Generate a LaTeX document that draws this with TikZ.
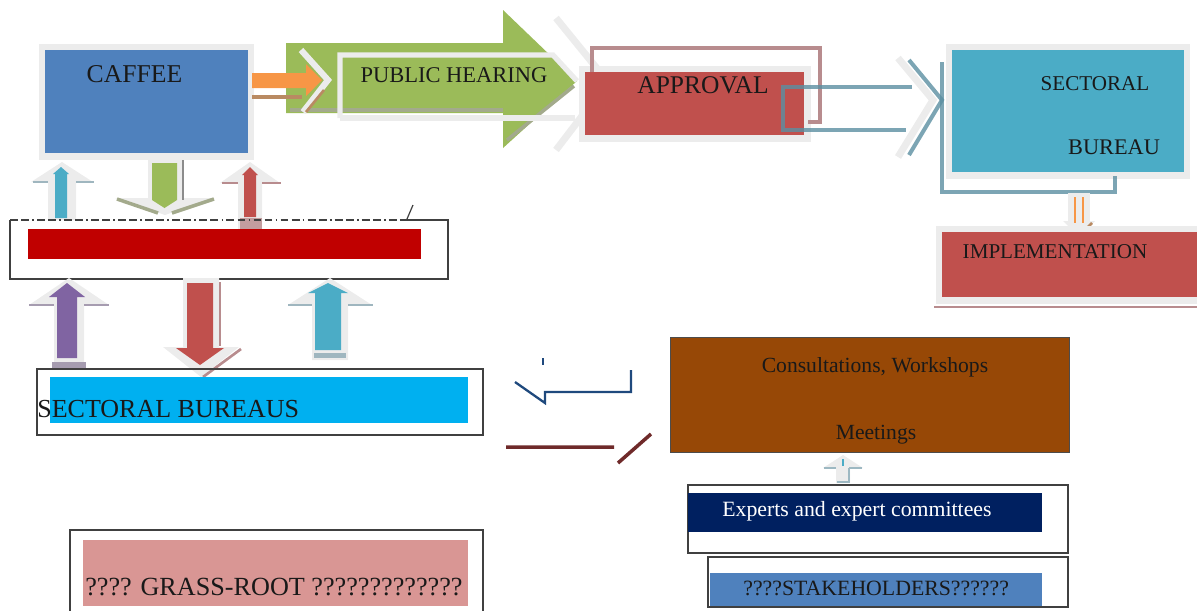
\documentclass[tikz,border=0pt]{standalone}
\usepackage{fontspec}
\setmainfont{Liberation Serif}

\definecolor{cafblue}{HTML}{4F81BD}
\definecolor{pubgreen}{HTML}{9BBB59}
\definecolor{appred}{HTML}{C0504D}
\definecolor{secteal}{HTML}{4BACC6}
\definecolor{barred}{HTML}{C00000}
\definecolor{sbblue}{HTML}{00B0F0}
\definecolor{grasspink}{HTML}{D99694}
\definecolor{consbrown}{HTML}{974806}
\definecolor{expnavy}{HTML}{002060}
\definecolor{orng}{HTML}{F79646}
\definecolor{purp}{HTML}{8064A2}
\definecolor{ghostgray}{HTML}{ECECEC}
\definecolor{mauve}{HTML}{B88C8E}
\definecolor{steel}{HTML}{5B8FA1}
\definecolor{steellight}{HTML}{9DB8C2}
\definecolor{greenshade}{HTML}{A3AA8C}
\definecolor{orngshade}{HTML}{B98A62}
\definecolor{bluishband}{HTML}{9FB6BF}
\definecolor{purpband}{HTML}{A69CB0}
\definecolor{dblue}{HTML}{1F497D}
\definecolor{maroon}{HTML}{6F2A2A}

\newcommand{\txtsize}[1]{\fontsize{#1pt}{#1pt}\selectfont}
% vertical block arrow: style, x, tip y, base y, shaft half width, head half width, head length
\newcommand{\blockarrow}[7]{%
  \path[#1] (#2,#3) -- ({#2+#6},{#3+(#7)}) -- ({#2+#5},{#3+(#7)}) -- ({#2+#5},#4)
    -- ({#2-#5},#4) -- ({#2-#5},{#3+(#7)}) -- ({#2-#6},{#3+(#7)}) -- cycle;}

\begin{document}
\begin{tikzpicture}[x=0.02cm,y=-0.02cm]
  \tikzset{ghost/.style = {fill=ghostgray}}
  \tikzset{edge/.style = {draw=black!75, line width=0.7pt}}
  \tikzset{txt/.style = {inner sep=0pt, anchor=base, text=black!90}}
  \tikzset{steelline/.style = {draw=steel, opacity=0.8, line width=2.3pt}}

  \useasboundingbox (0,0) rectangle (1197,610);

  % caffee
  \fill[ghostgray] (39,44) rectangle (254,160);
  \fill[cafblue] (45,50) rectangle (248,153);
  \node[txt, font=\txtsize{14.6}] (caffee) at (134.5,82) {CAFFEE};

  % public hearing
  \draw[ghostgray, line width=4pt] (556,18) -- (608,82) -- (556,150);
  \fill[pubgreen] (286,43) -- (503,43) -- (503,10) -- (577,81) -- (503,148)
    -- (503,113) -- (286,113) -- cycle;
  \draw[greenshade, line width=2.5pt] (290,110) -- (503,110);
  \draw[greenshade, line width=2pt] (507,140) -- (574,86);
  \draw[ghostgray, line width=3pt] (340,118) -- (340,55) -- (553,55) -- (577,81);
  \draw[ghostgray, line width=3pt] (340,118) -- (575,118);
  \node[txt, font=\txtsize{12.8}] (hearing) at (454,82) {PUBLIC HEARING};

  % orange arrow
  \draw[ghostgray, line width=3.5pt] (301,50) -- (328,80) -- (303,112);
  \draw[orngshade, line width=2pt] (252,97) -- (302,97);
  \draw[orngshade, line width=1.5pt] (306,112) -- (324,90);
  \fill[orng] (252,73) -- (306,73) -- (306,64) -- (322,80) -- (306,96)
    -- (306,88) -- (252,88) -- cycle;

  % approval
  \fill[ghostgray] (579,66) rectangle (811,142);
  \draw[mauve, line width=2.3pt] (592,78) -- (592,48) -- (820,48) -- (820,122) -- (808,122);
  \fill[appred] (585,72) rectangle (804,135);
  \node[txt, font=\txtsize{14.5}] (approval) at (703,93) {APPROVAL};
  \draw[ghostgray, line width=4pt] (898,58) -- (933,100) -- (898,157);
  \draw[steelline] (912,87) -- (783,87) -- (783,130) -- (906,130);
  \draw[steelline] (909,60) -- (942,100) -- (909,155);

  % sectoral bureau
  \fill[ghostgray] (946,44) rectangle (1190,179);
  \fill[secteal] (952,50) rectangle (1184,172);
  \draw[steelline] (942,62) -- (942,192) -- (1115,192) -- (1115,176);
  \node[txt, font=\txtsize{12}] (sectoral) at (1095,90) {SECTORAL};
  \node[txt, font=\txtsize{12.7}] (bureau) at (1114,154) {BUREAU};

  % down to implementation
  \fill[ghostgray] (1068,193) rectangle (1090,224);
  \fill[ghostgray] (1063,221) -- (1079,237) -- (1095,221) -- cycle;
  \draw[orng, line width=0.8pt] (1075,197) -- (1075,223) (1083,197) -- (1083,223);
  \draw[orngshade, line width=1.5pt] (1079,236) -- (1092,223);

  % implementation
  \fill[ghostgray] (936,226) rectangle (1197,304);
  \fill[appred] (942,232) rectangle (1197,297);
  \draw[mauve, line width=1.5pt] (934,307) -- (1197,307);
  \node[txt, font=\txtsize{12}] (implementation) at (1055,258) {IMPLEMENTATION};

  % arrows over the red bar
  \blockarrow{ghost}{62}{162}{220}{14}{31}{20}
  \draw[bluishband, line width=1.5pt] (33,182) -- (48,182) (76,182) -- (94,182);
  \blockarrow{fill=secteal}{61}{167}{218}{6}{8}{7}

  \blockarrow{ghost}{165}{215}{157}{17}{50}{-17}
  \draw[greenshade, line width=2pt] (117,199) -- (158,213) (172,213) -- (214,199);
  \draw[black!45, line width=1pt] (183,160) -- (183,200);
  \blockarrow{fill=pubgreen}{164.5}{208}{163}{12.5}{12.5}{-8}

  \blockarrow{ghost}{250}{162}{232}{12}{30}{21}
  \draw[mauve, line width=1.5pt] (222,183) -- (238,183) (262,183) -- (281,183);
  \fill[mauve!85] (240,218) rectangle (262,232);
  \blockarrow{fill=appred}{250}{167}{217}{6}{8}{8}

  % red bar
  \draw[edge] (407,220) -- (448,220) -- (448,279) -- (10,279) -- (10,220);
  \draw[edge, dash pattern=on 4.5pt off 1.8pt on 4.5pt off 1.8pt on 1pt off 1.8pt] (10,220) -- (407,220);
  \draw[edge] (407,219) -- (413,205);
  \fill[barred] (28,229) rectangle (421,259);

  % arrows under the red bar
  \blockarrow{ghost}{69}{278}{368}{15}{40}{27}
  \draw[purpband, line width=1.5pt] (29,305) -- (54,305) (84,305) -- (109,305);
  \fill[purpband] (52,362) rectangle (86,368);
  \blockarrow{fill=purp}{67}{283}{358}{10}{18}{14}

  \blockarrow{ghost}{201}{377}{278}{18}{38}{-30}
  \draw[mauve, line width=1.5pt] (241,349) -- (203,377);
  \draw[mauve, line width=1.2pt] (220,282) -- (220,346);
  \blockarrow{fill=appred}{200}{365}{283}{13}{24}{-17}

  \blockarrow{ghost}{330}{278}{360}{18}{42}{27}
  \draw[bluishband, line width=1.5pt] (288,305) -- (312,305) (348,305) -- (373,305);
  \fill[bluishband] (314,353) rectangle (346,358);
  \blockarrow{fill=secteal}{328}{283}{350}{13}{20}{10}

  % sectoral bureaus
  \draw[edge] (37,369) rectangle (483,435);
  \fill[sbblue] (50,377) rectangle (468,423);
  \node[txt, anchor=base west, font=\txtsize{14.8}] (bureaus) at (37,417) {SECTORAL BUREAUS};

  % grass-root
  \draw[edge] (70,612) -- (70,530) -- (483,530) -- (483,612);
  \fill[grasspink] (83,540) rectangle (468,606);
  \node[txt, anchor=base west, font=\txtsize{14.9}] (grassroot) at (85,595) {???? GRASS-ROOT ?????????????};

  % broken connectors
  \draw[dblue, line width=1.1pt] (543,358) -- (543,365);
  \draw[dblue, line width=1.3pt] (631,370) -- (631,392) -- (545,392) -- (545,403) -- (515,382);
  \draw[maroon, line width=2pt] (506,447) -- (614,447) (618,463) -- (651,434);

  % consultations
  \filldraw[fill=consbrown, draw=black!70, line width=0.5pt] (670,337) rectangle (1069,452);
  \node[txt, font=\txtsize{12.3}] (consult) at (875,372) {Consultations, Workshops};
  \node[txt, font=\txtsize{12.3}] (meetings) at (876,439) {Meetings};

  \blockarrow{ghost}{843}{455}{483}{7}{20}{13}
  \draw[steellight, line width=1.2pt] (824,468) -- (836,468) (849,468) -- (862,468)
    (849,468) -- (849,482) -- (837,482);
  \draw[secteal, line width=0.8pt] (843,459) -- (843,466);

  % experts
  \draw[edge] (688,485) rectangle (1068,553);
  \fill[expnavy] (688,493) rectangle (1042,532);
  \node[txt, anchor=base west, text=white, font=\txtsize{12.4}] (experts) at (722,516) {Experts and expert committees};

  % stakeholders
  \draw[edge] (708,557) rectangle (1068,607);
  \fill[cafblue] (710,573) rectangle (1042,606);
  \node[txt, anchor=base west, font=\txtsize{12.4}] (stakeholders) at (743,595) {????STAKEHOLDERS??????};
\end{tikzpicture}
\end{document}
